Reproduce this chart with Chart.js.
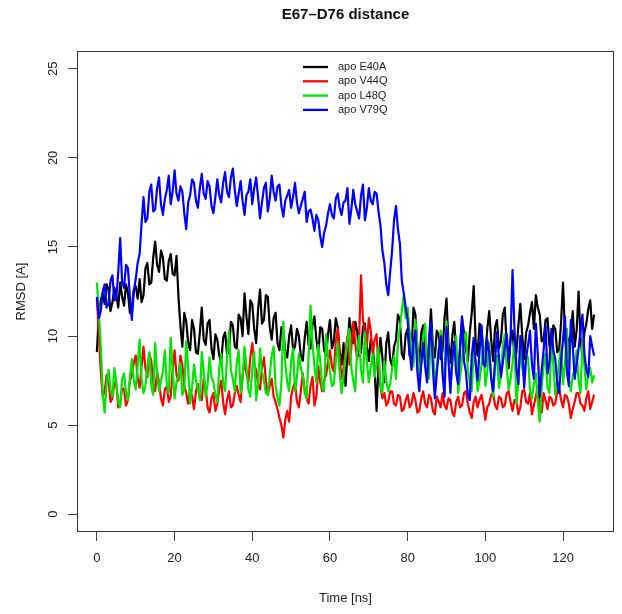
<!DOCTYPE html>
<html>
<head>
<meta charset="utf-8">
<script src="https://cdn.jsdelivr.net/npm/chart.js@4/dist/chart.umd.min.js"></script>
<style>
  body { margin: 0; background: #fff; }
  canvas { display: block; }
</style>
</head>
<body>
<canvas id="canvas" width="622" height="614"></canvas>
<script>
// Lưới thời gian (ns), mỗi 0.5 ns một mẫu
const time = Array.from({ length: 257 }, (_, i) => i / 2);

// Khoảng cách (RMSD) từng mẫu
const e40a = [
  9.1,11.2,12.0,12.4,11.8,12.9,12.6,11.4,11.9,12.7,12.3,11.6,13.0,12.2,11.7,12.9,12.4,11.3,11.5,12.6,
  12.8,12.1,13.2,11.9,12.3,13.8,14.1,12.9,13.0,14.4,15.3,14.0,13.6,14.8,14.4,13.2,13.1,14.2,14.6,13.5,
  13.4,14.5,12.2,10.6,9.4,11.3,10.8,9.6,9.2,10.9,10.4,9.1,9.0,10.2,11.6,9.8,9.5,10.7,10.9,9.3,
  8.7,10.1,9.8,8.9,8.5,9.9,10.2,9.0,9.1,10.8,10.6,9.4,9.3,11.2,11.0,10.0,12.4,11.1,10.1,12.0,
  11.8,10.4,9.6,11.5,12.6,10.7,10.9,12.3,12.2,10.5,9.8,11.0,11.3,9.6,9.2,10.5,10.3,9.1,8.8,10.0,
  10.6,9.2,9.4,10.4,10.0,8.9,8.6,9.9,10.8,9.5,9.3,10.6,11.1,9.8,9.0,10.5,10.4,9.2,8.9,10.1,
  10.9,9.3,9.7,11.0,10.5,9.1,8.4,9.6,7.2,9.0,11.0,10.2,9.6,10.8,10.3,8.9,9.1,10.5,10.7,9.4,
  8.6,9.8,9.5,8.1,5.8,8.4,9.9,8.8,7.4,9.6,10.2,8.7,8.3,9.4,9.8,11.2,10.9,9.0,8.7,10.1,
  10.4,8.9,9.1,11.6,11.2,9.3,8.4,10.2,10.6,8.6,7.9,9.7,11.5,9.4,8.8,10.3,10.1,8.7,9.2,11.0,
  12.1,9.6,8.5,10.0,10.8,9.1,7.6,9.4,11.0,10.2,9.3,8.6,10.2,11.3,12.8,9.7,8.9,10.7,10.5,9.0,
  9.0,10.4,11.4,9.8,8.6,10.5,10.9,9.3,9.7,11.2,11.6,9.5,8.2,9.9,10.3,8.8,9.1,10.6,11.8,10.0,
  8.7,10.2,10.6,11.3,11.9,10.4,12.3,11.6,11.2,9.7,9.8,10.9,11.0,9.5,8.9,10.6,10.4,9.1,9.2,10.8,
  13.0,10.1,8.6,9.8,10.1,11.4,9.4,10.3,12.5,9.9,8.8,10.2,10.7,11.5,12.0,10.4,11.2];
const v44q = [
  12.1,10.2,8.0,6.6,6.9,7.8,7.6,6.3,6.5,7.4,7.3,6.0,6.2,7.1,7.0,6.1,6.4,7.5,7.8,8.5,
  8.9,7.6,7.1,8.3,9.4,8.2,7.7,9.0,8.6,7.3,6.9,8.0,7.4,6.5,6.1,7.0,7.2,6.3,6.6,8.1,
  9.2,7.8,7.5,8.9,8.4,7.2,6.8,6.2,7.0,6.6,5.9,6.9,7.3,6.5,6.4,7.6,7.1,6.0,5.7,6.5,
  6.8,5.8,6.2,7.0,7.5,6.3,5.6,6.4,6.9,6.0,6.1,6.8,7.2,6.7,6.3,7.8,8.6,7.9,7.4,8.8,
  9.6,8.4,8.1,7.3,7.0,8.2,8.8,7.5,6.7,7.2,7.6,6.6,6.3,5.9,5.4,5.0,4.3,5.3,5.8,5.2,
  6.6,7.1,7.4,6.3,6.0,6.9,7.9,7.0,6.5,6.2,7.2,7.7,6.1,6.6,8.3,7.4,6.9,7.5,7.8,8.6,
  9.2,8.3,8.0,9.7,10.4,8.9,7.6,8.2,9.1,10.0,8.4,9.3,10.8,9.6,8.7,9.8,13.4,10.9,10.2,9.4,
  11.0,10.3,9.0,9.8,10.1,8.2,7.2,6.5,6.8,6.1,6.3,6.9,6.9,6.2,6.1,6.7,6.6,5.8,5.9,6.4,
  6.7,6.0,6.2,6.8,6.4,5.7,5.8,6.5,6.9,6.2,6.0,6.7,6.5,5.8,5.6,6.6,6.3,6.0,6.8,6.1,
  5.9,6.5,6.4,5.7,5.5,6.3,6.6,6.0,6.1,6.8,6.9,6.2,5.7,5.4,6.3,6.6,6.0,6.4,6.7,6.1,
  5.3,6.0,6.2,6.7,6.8,6.1,5.9,6.6,6.5,6.0,6.1,6.8,6.9,6.3,5.8,6.4,6.4,5.6,6.0,6.9,
  7.0,6.3,6.2,6.8,5.6,6.1,6.6,7.2,6.1,5.7,6.8,6.4,5.9,6.6,6.5,6.1,6.2,6.9,7.1,6.4,
  6.0,6.7,6.6,6.2,5.4,5.9,6.3,6.8,6.8,6.2,6.1,5.8,6.5,6.9,5.9,6.3,6.7];
const l48q = [
  13.0,11.4,9.5,6.8,5.7,7.3,8.1,7.0,6.6,8.2,7.4,6.3,6.0,7.6,7.9,6.8,6.4,7.7,8.7,7.5,
  7.0,8.4,9.8,7.6,6.8,7.2,8.3,9.1,7.2,6.7,9.6,7.9,6.9,7.5,8.0,9.2,7.3,6.8,9.9,8.1,
  6.5,7.4,7.8,8.5,6.7,7.0,9.7,8.2,6.2,7.1,8.4,7.5,7.1,6.4,9.1,8.0,6.6,7.3,8.8,7.7,
  7.4,6.7,6.3,8.2,9.0,7.4,6.9,8.8,10.3,8.1,7.6,6.9,8.5,9.2,6.8,7.5,9.4,8.3,7.0,6.6,
  8.2,9.1,6.4,7.3,9.3,8.0,7.5,6.8,6.7,7.8,8.9,9.4,7.2,6.5,6.1,7.4,10.8,8.5,7.4,6.9,
  8.6,9.3,6.9,7.7,9.0,8.2,7.8,6.8,6.5,8.9,11.7,9.6,8.3,7.4,9.5,8.6,7.1,6.9,10.1,8.8,
  8.0,7.2,7.3,8.6,9.6,7.9,6.8,7.7,8.8,9.7,10.4,8.2,7.5,6.9,9.2,10.0,8.1,7.4,10.2,8.6,
  7.4,8.3,9.0,7.7,8.5,9.4,7.2,6.8,8.6,7.5,6.9,7.3,8.2,8.9,7.6,9.6,10.5,11.4,12.3,11.0,
  11.6,10.2,9.4,8.3,10.9,9.5,7.8,8.6,9.9,10.7,8.3,7.6,10.6,9.1,7.5,8.2,9.2,10.3,8.0,7.3,
  10.8,9.0,7.1,8.4,9.5,10.0,6.8,7.7,8.7,9.9,10.2,8.1,7.4,6.9,9.1,8.6,6.9,7.5,8.4,9.6,
  7.2,8.0,9.6,7.8,6.6,8.3,8.9,7.1,7.7,9.4,10.1,8.3,7.0,7.6,8.5,9.7,6.2,7.4,9.3,8.2,
  7.6,8.9,8.8,7.0,6.5,7.3,7.9,6.3,5.2,7.1,8.3,9.0,7.1,6.8,9.8,8.4,6.7,7.5,8.6,9.4,
  7.3,8.5,10.4,7.6,6.9,7.8,8.1,9.2,7.5,6.8,9.7,8.3,7.0,7.9,8.2,7.4,7.8];
const v79q = [
  12.2,11.0,11.4,12.5,12.9,11.6,11.8,13.1,13.4,12.0,12.1,13.6,15.5,13.0,12.7,14.0,13.8,12.2,10.9,12.5,
  13.2,14.1,14.6,16.3,17.8,16.4,16.6,18.1,18.5,17.0,17.1,18.3,18.9,17.4,16.8,17.7,18.2,19.0,17.4,18.1,
  19.3,18.0,17.6,18.4,18.1,16.9,16.0,17.5,17.9,18.8,18.6,17.6,17.2,18.3,19.1,18.0,17.7,18.7,18.4,17.3,
  16.9,17.8,18.8,17.9,17.5,18.6,19.2,18.1,17.8,18.9,19.4,18.2,17.3,18.0,18.7,17.6,16.8,17.9,18.1,18.8,
  17.4,18.3,18.9,17.8,16.6,17.5,18.3,18.6,17.0,17.7,19.0,18.1,17.6,18.4,18.5,17.3,16.7,17.6,17.9,18.2,
  17.2,17.8,18.6,17.5,16.9,17.3,17.7,18.1,16.4,17.0,17.1,16.6,15.9,16.8,16.5,15.6,15.0,15.8,16.2,16.9,
  17.4,16.8,16.6,17.7,18.0,17.2,16.8,17.5,17.6,18.3,16.3,17.1,18.2,17.4,17.0,16.6,17.9,18.5,16.5,17.2,
  18.3,17.6,17.4,18.1,18.0,17.0,16.2,14.8,14.1,12.9,12.3,13.6,14.8,16.5,17.3,16.0,15.2,13.1,12.4,11.6,
  10.9,9.2,8.1,9.7,10.3,8.0,6.9,8.4,9.6,8.3,7.4,9.5,10.8,8.2,6.5,7.9,9.2,10.0,7.8,6.6,
  10.5,8.7,6.8,8.8,9.7,7.9,7.3,9.4,11.1,8.6,8.0,6.7,6.4,8.9,9.9,8.5,7.5,9.1,10.6,8.4,
  8.3,9.8,9.1,7.6,6.9,8.6,10.2,8.8,7.7,8.5,9.4,10.1,8.6,9.9,13.7,10.4,8.2,7.3,10.0,9.3,
  7.1,8.8,9.5,10.3,8.4,7.6,10.7,9.0,6.6,8.1,9.2,10.6,7.9,8.5,10.4,9.2,8.7,7.4,6.8,8.6,
  9.8,11.1,8.0,7.2,10.9,9.5,7.6,8.4,9.3,10.3,11.2,9.0,8.1,7.7,10.0,9.4,8.9];

const seriesNames = ['apo E40A', 'apo V44Q', 'apo L48Q', 'apo V79Q'];
const seriesColors = ['#000000', '#ff0000', '#00e600', '#0000ff'];
const xTicks = [0, 20, 40, 60, 80, 100, 120];
const yTicks = [0, 5, 10, 15, 20, 25];

const FONT = '"Liberation Sans", Arial, sans-serif';

function toPoints(values) {
    return values.map((v, i) => ({ x: time[i], y: v }));
}

const allSeries = [e40a, v44q, l48q, v79q];
const datasets = allSeries.map((values, i) => ({
    label: seriesNames[i],
    data: toPoints(values),
    borderColor: seriesColors[i],
    borderWidth: 2.2,
    pointRadius: 0,
    tension: 0,
    borderJoinStyle: 'round',
    order: allSeries.length - i   // đường sau vẽ đè lên đường trước
}));

// Vẽ khung, tiêu đề, nhãn trục y xoay và chú thích kiểu R
const rStyle = {
    id: 'rStyle',
    afterDraw(chart) {
        const ctx = chart.ctx;
        const a = chart.chartArea;
        const y = chart.scales.y;
        ctx.save();

        // khung
        ctx.strokeStyle = '#333';
        ctx.lineWidth = 1;
        ctx.strokeRect(a.left + 0.5, a.top + 0.5, a.right - a.left - 1, a.bottom - a.top - 1);

        // tiêu đề
        ctx.fillStyle = '#111';
        ctx.font = 'bold 15px ' + FONT;
        ctx.textAlign = 'center';
        ctx.textBaseline = 'middle';
        ctx.fillText('E67\u2013D76 distance', (a.left + a.right) / 2, 15);

        // nhãn trục y xoay dọc
        ctx.font = '13px ' + FONT;
        ctx.fillStyle = '#222';
        yTicks.forEach(v => {
            ctx.save();
            ctx.translate(53, y.getPixelForValue(v));
            ctx.rotate(-Math.PI / 2);
            ctx.fillText(String(v), 0, 0);
            ctx.restore();
        });

        // chú thích
        ctx.font = '11px ' + FONT;
        ctx.textAlign = 'left';
        seriesNames.forEach((name, i) => {
            const ly = 67 + i * 14.3;
            ctx.strokeStyle = seriesColors[i];
            ctx.lineWidth = 2.3;
            ctx.beginPath();
            ctx.moveTo(303, ly);
            ctx.lineTo(328, ly);
            ctx.stroke();
            ctx.fillStyle = '#222';
            ctx.fillText(name, 338, ly);
        });
        ctx.restore();
    }
};

const config = {
    type: 'line',
    data: { datasets: datasets },
    options: {
        responsive: false,
        animation: false,
        layout: { padding: { left: 0, right: 8, top: 51, bottom: 0 } },
        plugins: {
            legend: { display: false },
            tooltip: { enabled: false }
        },
        scales: {
            x: {
                type: 'linear',
                min: -5.12,
                max: 133.12,
                afterBuildTicks: s => { s.ticks = xTicks.map(v => ({ value: v })); },
                afterFit: s => { s.height = 82; },
                ticks: { font: { size: 13, family: FONT }, color: '#222', padding: 10, maxRotation: 0, autoSkip: false },
                grid: { drawOnChartArea: false, tickLength: 9, color: '#444' },
                border: { display: false },
                title: { display: true, text: 'Time [ns]', font: { size: 13, family: FONT }, color: '#222', padding: { bottom: 8 } }
            },
            y: {
                min: -1,
                max: 26,
                afterBuildTicks: s => { s.ticks = yTicks.map(v => ({ value: v })); },
                afterFit: s => { s.width = 77; },
                ticks: { display: false },
                grid: { drawOnChartArea: false, tickLength: 9, color: '#444' },
                border: { display: false },
                title: { display: true, text: 'RMSD [A]', font: { size: 13, family: FONT }, color: '#222', padding: { top: 14 } }
            }
        }
    },
    plugins: [rStyle]
};

let myChart = new Chart('canvas', config);
</script>
</body>
</html>
